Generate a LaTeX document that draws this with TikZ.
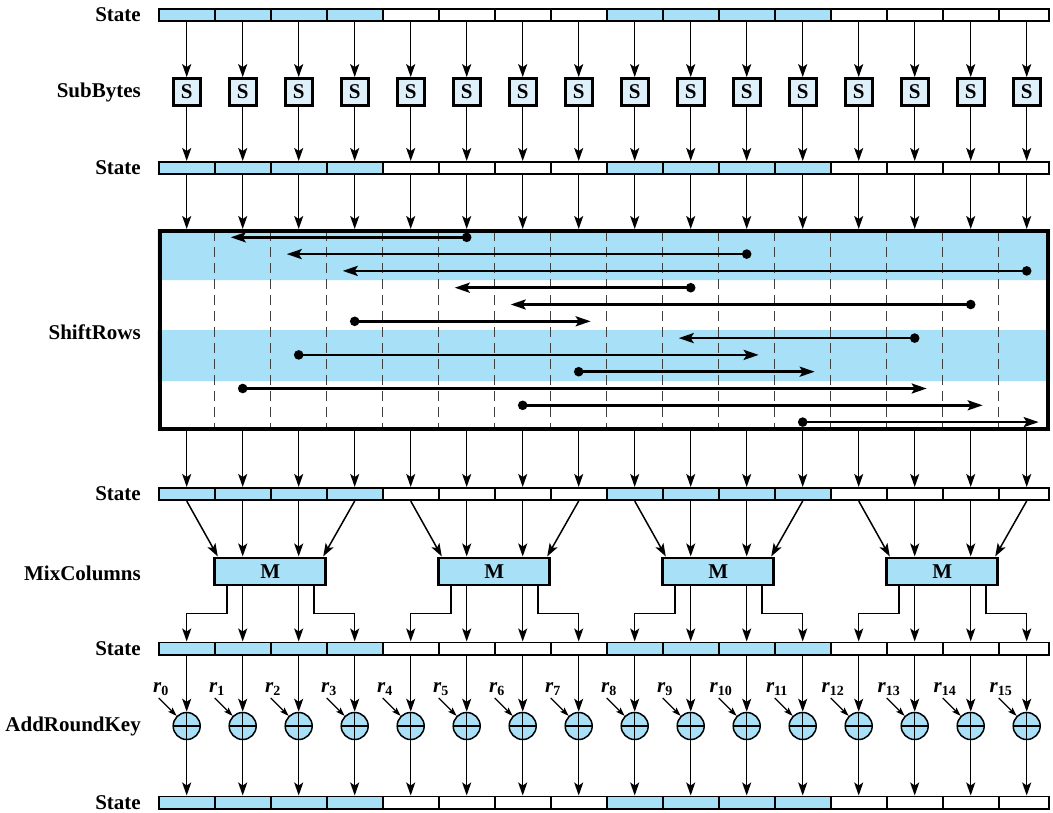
\documentclass[tikz,border=0pt]{standalone}
\usepackage{fontspec}
\setmainfont{Liberation Serif}
\usetikzlibrary{arrows.meta,calc}
\definecolor{aesblue}{RGB}{168,224,248}
\definecolor{aespale}{RGB}{222,241,251}
\newcommand{\bigbf}{\bfseries\fontsize{21}{24}\selectfont}

\begin{document}
\begin{tikzpicture}[x=1pt,y=-1pt,>={Stealth[length=13pt,width=9pt,inset=3pt]},
  lbl/.style={anchor=east,inner sep=0pt,font=\bigbf},
  cell/.style={draw,line width=1.6pt,minimum height=12.4pt,inner sep=0pt},
  sbox/.style={draw,line width=2.8pt,fill=aespale,minimum width=27pt,minimum height=27pt,inner sep=0pt,font=\bigbf},
  mbox/.style={draw,line width=2.8pt,fill=aesblue,minimum width=111pt,minimum height=27pt,inner sep=0pt,font=\bigbf},
  xorc/.style={draw,circle,line width=1.5pt,fill=aesblue,minimum size=27pt,inner sep=0pt,
    path picture={\draw[line width=1.5pt] (path picture bounding box.west) -- (path picture bounding box.east)
      (path picture bounding box.north) -- (path picture bounding box.south);}},
  flow/.style={->,line width=1.5pt},
  keyin/.style={-{Stealth[length=9pt,width=6pt,inset=2pt]},line width=1.2pt},
  rowmove/.style={-{Stealth[length=15pt,width=10pt,inset=3pt]},line width=2.6pt}]
  \useasboundingbox (0,0) rectangle (1053,812);
  \foreach \k in {0,...,15}
    \coordinate (col\k) at ({186.7+56*\k},0);
  \foreach \b/\y in {1/15,2/168,3/494,4/648.5,5/802.5} {
    \node[lbl] (lst\b) at (141,\y) {State};
    \foreach \k in {0,...,15} {
      \pgfmathtruncatemacro\blue{mod(int(\k/4),2)==0}
      \pgfmathsetmacro\w{\k==15 ? 50.3 : 56}
      \ifnum\blue=1 \def\fc{aesblue}\else\def\fc{white}\fi
      \node[cell,fill=\fc,minimum width=\w pt] (st\b-\k) at ({158.7+56*\k+\w/2},\y) {};
    }
  }
  \node[lbl] (lsub) at (141,92) {SubBytes};
  \node[lbl] (lshift) at (141,332) {ShiftRows};
  \node[lbl] (lmix) at (141,573) {MixColumns};
  \node[lbl] (ladd) at (141,726) {AddRoundKey};

  \fill[aesblue] (157.5,229) rectangle (1050,280) (157.5,330) rectangle (1050,381);
  \foreach \k in {0,...,14}
    \draw[dash pattern=on 10pt off 6pt,line width=1.5pt,black!75] ($(col\k)+(28,231)$) -- ($(col\k)+(28,429)$);
  \node[draw,line width=4pt,minimum width=888.5pt,minimum height=198pt,inner sep=0pt] (sr) at (603.75,330) {};
  \foreach \f/\t [count=\i from 0] in {5/1,10/2,15/3,9/5,14/6,3/7,13/9,2/10,7/11,1/13,6/14,11/15} {
    \pgfmathsetmacro\yy{237.3+16.8*\i}
    \pgfmathsetmacro\dx{\t>\f ? 12 : -12}
    \fill ($(col\f)+(0,\yy)$) circle[radius=4.8pt];
    \draw[rowmove] ($(col\f)+(0,\yy)$) -- ($(col\t)+(\dx,\yy)$);
  }

  \foreach \k in {0,...,15} {
    \node[sbox] (S\k) at ($(col\k)+(0,92)$) {S};
    \draw[flow] (col\k |- st1-\k.south) -- (S\k);
    \draw[flow] (S\k) -- (col\k |- st2-\k.north);
    \draw[flow] (col\k |- st2-\k.south) -- (col\k |- sr.north);
    \draw[flow] (col\k |- sr.south) -- (col\k |- st3-\k.north);
  }

  \foreach \m in {0,...,3} {
    \pgfmathtruncatemacro\jA{4*\m}
    \pgfmathtruncatemacro\jB{4*\m+1}
    \pgfmathtruncatemacro\jC{4*\m+2}
    \pgfmathtruncatemacro\jD{4*\m+3}
    \node[mbox] (M\m) at ({270.3+224*\m},571.4) {M};
    \draw[flow] (col\jA |- st3-\jA.south) -- ($(M\m.north west)+(4.4,0)$);
    \draw[flow] (col\jB |- st3-\jB.south) -- (col\jB |- M\m.north);
    \draw[flow] (col\jC |- st3-\jC.south) -- (col\jC |- M\m.north);
    \draw[flow] (col\jD |- st3-\jD.south) -- ($(M\m.north east)+(-4,0)$);
    \draw[flow] ($(M\m.south west)+(13.4,0)$) |- ($(col\jA)+(0,613.3)$) -- (col\jA |- st4-\jA.north);
    \draw[flow] (col\jB |- M\m.south) -- (col\jB |- st4-\jB.north);
    \draw[flow] (col\jC |- M\m.south) -- (col\jC |- st4-\jC.north);
    \draw[flow] ($(M\m.south east)+(-13.3,0)$) |- ($(col\jD)+(0,613.3)$) -- (col\jD |- st4-\jD.north);
  }

  \foreach \k in {0,...,15} {
    \node[xorc] (X\k) at ($(col\k)+(0,726)$) {};
    \node[anchor=base,inner sep=0pt,font=\bigbf\itshape] (r\k) at ($(X\k)+(-26,-34)$)
      {r\raisebox{-3pt}{\upshape\fontsize{14}{14}\selectfont\k}};
    \draw[flow] (col\k |- st4-\k.south) -- (X\k.north);
    \draw[flow] (X\k.south) -- (col\k |- st5-\k.north);
    \draw[keyin] ($(X\k)+(-28,-28)$) -- (X\k.135);
  }
\end{tikzpicture}
\end{document}
